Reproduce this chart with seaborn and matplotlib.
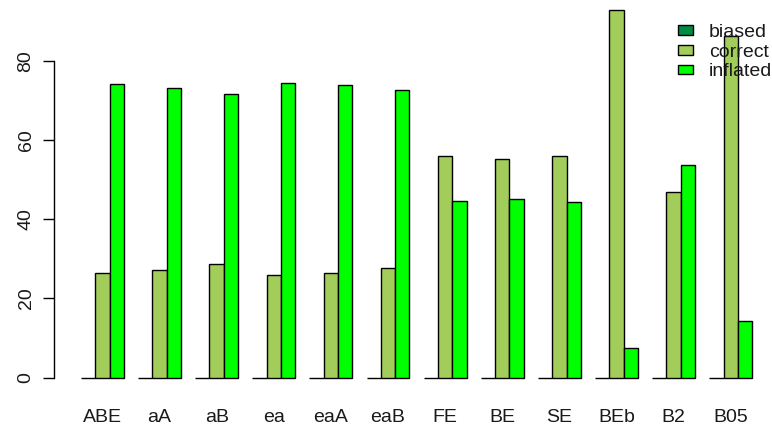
import matplotlib
matplotlib.use("Agg")
import matplotlib.pyplot as plt
import seaborn as sns
import pandas as pd

methods = ["ABE", "aA", "aB", "ea", "eaA", "eaB", "FE", "BE", "SE", "BEb", "B2", "B05"]
outcomes = ["biased", "correct", "inflated"]
biased = [0, 0, 0, 0, 0, 0, 0, 0, 0, 0, 0, 0]
correct = [26.4, 27.1, 28.6, 25.8, 26.4, 27.6, 55.9, 55.2, 55.9, 92.7, 46.8, 86.2]
inflated = [74.1, 73.2, 71.7, 74.4, 73.8, 72.5, 44.6, 45.2, 44.4, 7.6, 53.8, 14.2]
colors = ["#008B45", "#A2CD5A", "#00FF00"]
yticks = [0, 20, 40, 60, 80]

df = pd.DataFrame({
    "method": methods * 3,
    "outcome": [o for o in outcomes for _ in methods],
    "pct": biased + correct + inflated,
})

sns.set_style("white")
plt.rcParams["font.family"] = ["Liberation Sans", "DejaVu Sans"]

W, H = 772, 430
fig = plt.figure(figsize=(W / 100, H / 100), dpi=100)
ax = fig.add_axes([54 / W, 0.0874, (779 - 54) / W, 0.9226])

sns.barplot(data=df, x="method", y="pct", hue="outcome", order=methods,
            hue_order=outcomes, palette=colors, saturation=1, width=0.75,
            edgecolor="black", linewidth=1, legend=False, ax=ax)

top = max(correct + inflated)
ax.set_ylim(-0.04 * top, 1.04 * top)
ax.set_xlim(-0.847, 11.845)

for s in ["top", "right", "bottom"]:
    ax.spines[s].set_visible(False)
ax.spines["left"].set_bounds(0, 80)
ax.spines["left"].set_color("black")
ax.spines["left"].set_linewidth(1)

ax.set_yticks(yticks)
ax.set_yticklabels([str(t) for t in yticks], rotation=90, va="center")
ax.tick_params(axis="y", left=True, length=8, width=1, color="black",
               labelsize=14, pad=6, labelcolor="#1a1a1a")
ax.tick_params(axis="x", bottom=False, length=0, labelsize=14, pad=12,
               labelcolor="#1a1a1a")
ax.set_xlabel("")
ax.set_ylabel("")

ax.legend(ax.containers, outcomes, loc="upper left",
          bbox_to_anchor=(678 / W, 1 - 24 / H), bbox_transform=fig.transFigure,
          frameon=False, borderpad=0, borderaxespad=0, fontsize=14,
          handlelength=0.77, handleheight=0.41, handletextpad=0.82,
          labelspacing=0.14, labelcolor="#1a1a1a")

fig.savefig("out.png", dpi=100)
